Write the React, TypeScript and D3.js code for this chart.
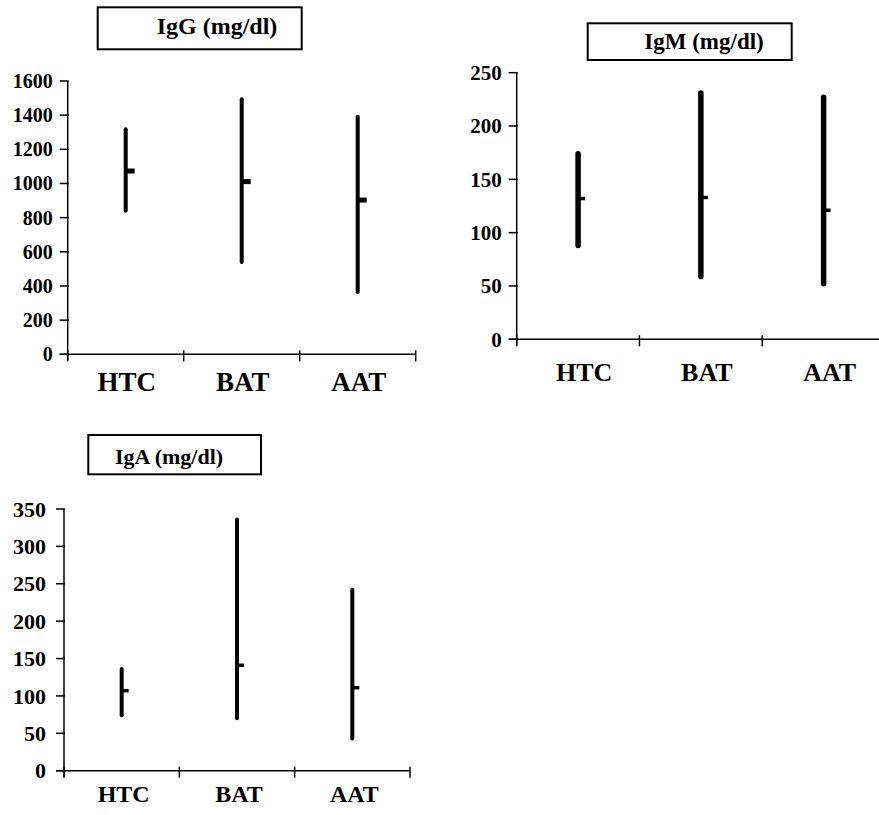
import React from "react";
import * as d3 from "d3";

const categories = ["HTC", "BAT", "AAT"];

// IgG (mg/dl)
const igGLow = [840, 540, 365];
const igGHigh = [1318, 1493, 1391];
const igGMean = [1073, 1011, 903];
const igGTicks = [0, 200, 400, 600, 800, 1000, 1200, 1400, 1600];

// IgM (mg/dl)
const igMLow = [88, 59, 52];
const igMHigh = [174, 231, 227];
const igMMean = [132, 133, 121];
const igMTicks = [0, 50, 100, 150, 200, 250];

// IgA (mg/dl)
const igALow = [74, 70, 43];
const igAHigh = [136, 336, 242];
const igAMean = [107, 141, 111];
const igATicks = [0, 50, 100, 150, 200, 250, 300, 350];

const font = "'Liberation Serif', 'Times New Roman', serif";

function Panel(props: any) {
  const { p, title, low, high, mean, ticks } = props;
  const y = d3.scaleLinear().domain([0, ticks[ticks.length - 1]]).range([p.y0, p.yTop]);
  const x = d3.scaleBand().domain(categories).range([p.x0, p.x1]).padding(0);
  const bounds = [...categories.map((c) => x(c) as number), p.x1];

  return (
    <g>
      <rect x={p.box[0]} y={p.box[1]} width={p.box[2]} height={p.box[3]} fill="white" stroke="black" strokeWidth={2} />
      <text x={p.titleX} y={p.titleY} fontFamily={font} fontWeight="bold" fontSize={p.titleSize} textAnchor="middle">
        {title}
      </text>

      {/* y axis */}
      <line x1={p.x0} x2={p.x0} y1={p.yTop} y2={p.y0 + 6} stroke="black" strokeWidth={1.5} />
      {ticks.map((t: number) => (
        <g key={`yt${t}`}>
          <line x1={p.x0 - 8} x2={p.x0 + 1} y1={y(t)} y2={y(t)} stroke="black" strokeWidth={1.5} />
          <text
            x={p.x0 - p.tickGap}
            y={y(t)}
            dy="0.35em"
            textAnchor="end"
            fontFamily={font}
            fontWeight="bold"
            fontSize={p.tickSize}
          >
            {t}
          </text>
        </g>
      ))}

      {/* x axis */}
      <line x1={p.x0 - 8} x2={p.x1} y1={p.y0} y2={p.y0} stroke="black" strokeWidth={1.5} />
      {bounds.map((b, i) => (
        <line key={`xt${i}`} x1={b} x2={b} y1={p.y0 - 4} y2={p.y0 + 7} stroke="black" strokeWidth={1.5} />
      ))}
      {categories.map((c) => (
        <text
          key={`xl${c}`}
          x={(x(c) as number) + x.bandwidth() / 2 + p.labelShift}
          y={p.labelY}
          textAnchor="middle"
          fontFamily={font}
          fontWeight="bold"
          fontSize={p.labelSize}
        >
          {c}
        </text>
      ))}

      {/* ranges and means */}
      {categories.map((c, i) => {
        const cx = (x(c) as number) + x.bandwidth() / 2;
        return (
          <g key={`r${c}`}>
            <line x1={cx} x2={cx} y1={y(low[i])} y2={y(high[i])} stroke="black" strokeWidth={p.lineW} strokeLinecap="round" />
            <line x1={cx} x2={cx + p.meanLen} y1={y(mean[i])} y2={y(mean[i])} stroke="black" strokeWidth={p.meanW} />
          </g>
        );
      })}
    </g>
  );
}

export default function App() {
  const pG = {
    x0: 67.7, x1: 415.7, y0: 354.3, yTop: 81,
    box: [97.7, 7.3, 204, 42], titleX: 217, titleY: 34, titleSize: 24,
    tickSize: 20, tickGap: 15, labelY: 391, labelSize: 27, labelShift: 1,
    lineW: 4, meanW: 5, meanLen: 9,
  };
  const pM = {
    x0: 516.7, x1: 885, y0: 339.3, yTop: 72.7,
    box: [587.7, 23.3, 204, 36.7], titleX: 704, titleY: 49, titleSize: 23,
    tickSize: 21, tickGap: 15, labelY: 381, labelSize: 26, labelShift: 6,
    lineW: 5.5, meanW: 3.5, meanLen: 7,
  };
  const pA = {
    x0: 64, x1: 410, y0: 770.7, yTop: 509,
    box: [88.3, 435, 172.7, 39.3], titleX: 169, titleY: 464, titleSize: 22,
    tickSize: 22, tickGap: 18, labelY: 802, labelSize: 24, labelShift: 2,
    lineW: 4, meanW: 3.5, meanLen: 7,
  };

  return (
    <svg width={879} height={815} style={{ position: "absolute", left: 0, top: 0, background: "white" }}>
      <rect width={879} height={815} fill="white" />
      <Panel p={pG} title="IgG (mg/dl)" low={igGLow} high={igGHigh} mean={igGMean} ticks={igGTicks} />
      <Panel p={pM} title="IgM (mg/dl)" low={igMLow} high={igMHigh} mean={igMMean} ticks={igMTicks} />
      <Panel p={pA} title="IgA (mg/dl)" low={igALow} high={igAHigh} mean={igAMean} ticks={igATicks} />
    </svg>
  );
}
